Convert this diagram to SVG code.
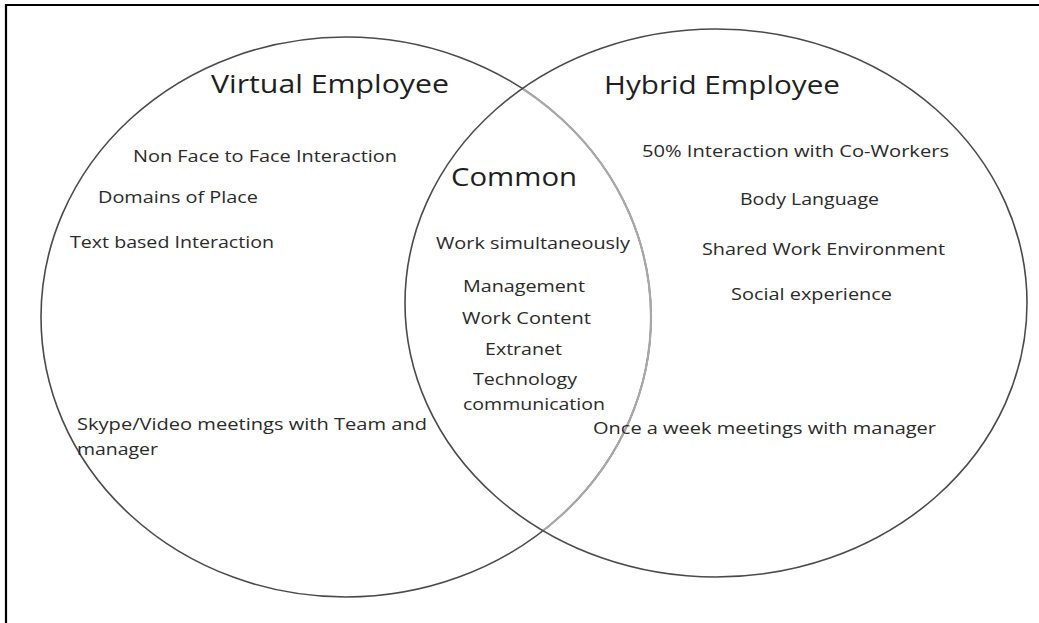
<svg xmlns="http://www.w3.org/2000/svg" width="1039" height="623" viewBox="0 0 1039 623">
  <style>
    .ring { fill: none; stroke: #4a4a4a; stroke-width: 1.6; }
    .ring-in { fill: none; stroke: #a8a8a8; stroke-width: 2.2; }
    .title { font-family: "Open Sans", "Liberation Sans", sans-serif; font-size: 25px; font-weight: 500; fill: #1e1e1e; }
    .item { font-family: "Open Sans", "Liberation Sans", sans-serif; font-size: 16.5px; font-weight: 500; fill: #2a2a2a; }
  </style>
  <defs>
    <clipPath id="inRight"><ellipse cx="716" cy="303" rx="311" ry="274"/></clipPath>
  </defs>

  <rect width="1039" height="623" fill="#fff"/>
  <!-- frame: top and left rules -->
  <line x1="5" y1="5" x2="1039" y2="5" stroke="#000" stroke-width="2.2"/>
  <line x1="6" y1="4" x2="6" y2="623" stroke="#000" stroke-width="2.2"/>

  <!-- outlines of the two sets; the left set's arc inside the right set is lighter -->
  <g id="connectors">
    <ellipse class="ring" cx="346" cy="317" rx="305" ry="280"/>
    <ellipse class="ring-in" cx="346" cy="317" rx="305" ry="280" clip-path="url(#inRight)"/>
    <ellipse class="ring" cx="716" cy="303" rx="311" ry="274"/>
  </g>

  <g id="virtual">
    <text class="title" x="211" y="93" textLength="238" lengthAdjust="spacingAndGlyphs">Virtual Employee</text>
    <text class="item" x="133" y="162" textLength="264" lengthAdjust="spacingAndGlyphs">Non Face to Face Interaction</text>
    <text class="item" x="98" y="203" textLength="160" lengthAdjust="spacingAndGlyphs">Domains of Place</text>
    <text class="item" x="70" y="248" textLength="204" lengthAdjust="spacingAndGlyphs">Text based Interaction</text>
    <text class="item" x="77" y="430" textLength="350" lengthAdjust="spacingAndGlyphs">Skype/Video meetings with Team and</text>
    <text class="item" x="77" y="455" textLength="81" lengthAdjust="spacingAndGlyphs">manager</text>
  </g>

  <g id="common">
    <text class="title" x="451" y="186" textLength="126" lengthAdjust="spacingAndGlyphs">Common</text>
    <text class="item" x="436" y="249" textLength="194" lengthAdjust="spacingAndGlyphs">Work simultaneously</text>
    <text class="item" x="463" y="292" textLength="122" lengthAdjust="spacingAndGlyphs">Management</text>
    <text class="item" x="462" y="324" textLength="129" lengthAdjust="spacingAndGlyphs">Work Content</text>
    <text class="item" x="485" y="355" textLength="77" lengthAdjust="spacingAndGlyphs">Extranet</text>
    <text class="item" x="473" y="385" textLength="104" lengthAdjust="spacingAndGlyphs">Technology</text>
    <text class="item" x="463" y="410" textLength="142" lengthAdjust="spacingAndGlyphs">communication</text>
  </g>

  <g id="hybrid">
    <text class="title" x="604" y="94" textLength="236" lengthAdjust="spacingAndGlyphs">Hybrid Employee</text>
    <text class="item" x="642" y="157" textLength="307" lengthAdjust="spacingAndGlyphs">50% Interaction with Co-Workers</text>
    <text class="item" x="740" y="205" textLength="139" lengthAdjust="spacingAndGlyphs">Body Language</text>
    <text class="item" x="702" y="255" textLength="243" lengthAdjust="spacingAndGlyphs">Shared Work Environment</text>
    <text class="item" x="731" y="300" textLength="161" lengthAdjust="spacingAndGlyphs">Social experience</text>
    <text class="item" x="593" y="434" textLength="343" lengthAdjust="spacingAndGlyphs">Once a week meetings with manager</text>
  </g>
</svg>
